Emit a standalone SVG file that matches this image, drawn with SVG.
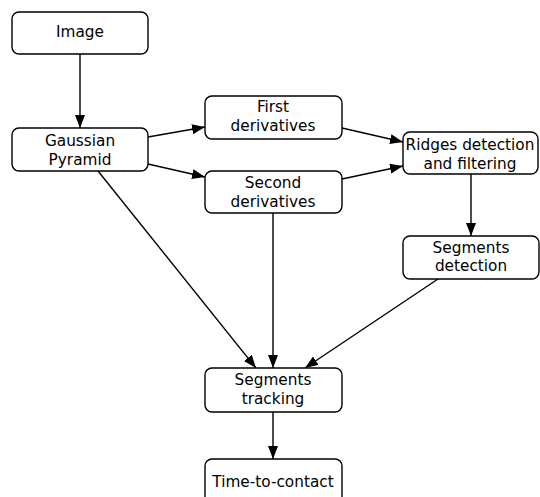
<svg xmlns="http://www.w3.org/2000/svg" width="540" height="497" viewBox="0 0 540 497">
<style>
.box{fill:#fff;stroke:#000;stroke-width:1.4}
text{font-family:"DejaVu Sans",sans-serif;font-size:15.3px;fill:#000;text-anchor:middle}
.c{stroke:#000;stroke-width:1.4;fill:none;marker-end:url(#ah)}
</style>
<defs>
<marker id="ah" markerWidth="14" markerHeight="12" refX="13" refY="5" orient="auto" markerUnits="userSpaceOnUse">
<path d="M0,0 L13,5 L0,10 Z" fill="#000"/>
</marker>
</defs>
<rect width="540" height="497" fill="#fff"/>
<g id="connectors">
<line class="c" x1="80" y1="54" x2="80" y2="128"/>
<line class="c" x1="148" y1="137" x2="205" y2="127"/>
<line class="c" x1="148" y1="164" x2="205" y2="177"/>
<line class="c" x1="342" y1="128" x2="403" y2="142"/>
<line class="c" x1="342" y1="179" x2="403" y2="166"/>
<line class="c" x1="471" y1="174" x2="471" y2="236"/>
<line class="c" x1="98" y1="171" x2="256" y2="368"/>
<line class="c" x1="273" y1="213" x2="273" y2="368"/>
<line class="c" x1="438" y1="279" x2="305" y2="368"/>
<line class="c" x1="273" y1="412" x2="273" y2="459"/>
</g>
<g id="image"><rect class="box" x="12" y="12" width="136" height="42" rx="7"/><text x="80" y="37">Image</text></g>
<g id="gaussian"><rect class="box" x="12" y="128" width="136" height="43" rx="7"/><text x="80" y="146">Gaussian</text><text x="80" y="165">Pyramid</text></g>
<g id="first"><rect class="box" x="205" y="96" width="137" height="43" rx="7"/><text x="273" y="112">First</text><text x="273" y="131">derivatives</text></g>
<g id="second"><rect class="box" x="205" y="171" width="137" height="42" rx="7"/><text x="273" y="188">Second</text><text x="273" y="207">derivatives</text></g>
<g id="ridges"><rect class="box" x="403" y="132" width="135" height="42" rx="7"/><text x="470" y="150">Ridges detection</text><text x="470" y="169">and filtering</text></g>
<g id="segdet"><rect class="box" x="403" y="236" width="136" height="43" rx="7"/><text x="471" y="253">Segments</text><text x="471" y="271">detection</text></g>
<g id="tracking"><rect class="box" x="205" y="368" width="137" height="44" rx="7"/><text x="273" y="385">Segments</text><text x="273" y="404">tracking</text></g>
<g id="ttc"><rect class="box" x="205" y="459" width="137" height="50" rx="7"/><text x="273" y="487">Time-to-contact</text></g>
</svg>
